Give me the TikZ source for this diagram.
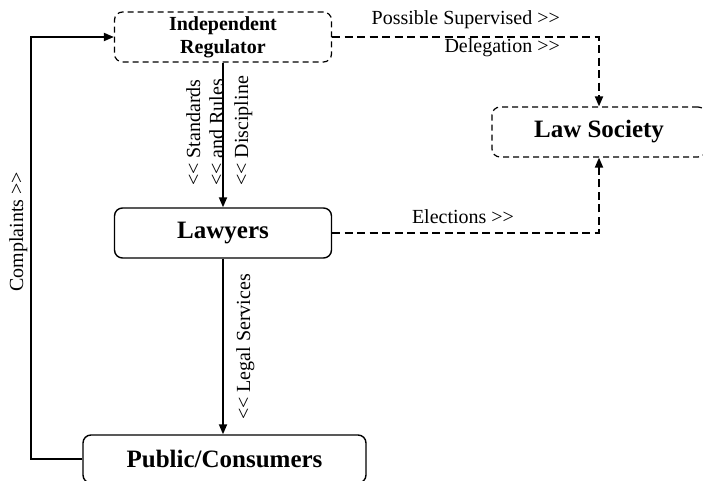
\documentclass[tikz,border=0pt]{standalone}
\usepackage{fontspec}
\setmainfont{Liberation Serif}[Ligatures=TeXOff]
\usetikzlibrary{arrows.meta}
\begin{document}
\begin{tikzpicture}[x=1pt,y=-1pt,
  box/.style={draw, line width=1.4pt, rounded corners=8pt, inner sep=0pt,
    align=center, font=\fontsize{25}{28}\selectfont\bfseries},
  dbox/.style={box, dash pattern=on 6pt off 4pt, line width=1.2pt},
  link/.style={line width=1.8pt, -{Triangle[length=10pt,width=8pt]}},
  dlink/.style={link, dash pattern=on 8pt off 4.5pt},
  lbl/.style={inner sep=0pt, font=\fontsize{20}{23}\selectfont},
  vlbl/.style={lbl, rotate=90, anchor=base west}]
\useasboundingbox (0,0) rectangle (703,481);

% boxes
\node[dbox, minimum width=217pt, minimum height=50pt,
  font=\fontsize{20}{23}\selectfont\bfseries] (reg) at (223,37)
  {Independent\\Regulator};
\node[dbox, minimum width=214pt, minimum height=50pt] (law) at (599,132) {Law Society};
\node[box, minimum width=217pt, minimum height=50pt] (lawyers) at (223,233) {Lawyers};
\node[box, minimum width=283pt, minimum height=48pt] (public) at (224.5,459) {Public/Consumers};

% connectors
\draw[link] (reg.south) -- (lawyers.north);
\draw[link] (lawyers.south) -- (lawyers.south |- public.north);
\draw[dlink] (reg.east) -| (law.north);
\draw[dlink] (lawyers.east) -| (law.south);
\draw[link] (public.west) -- ++(-51,0) |- (reg.west);

% labels
\node[lbl, anchor=base east] (possible) at (560,25) {Possible Supervised >>};
\node[lbl, anchor=base east] (deleg) at (560,53) {Delegation >>};
\node[lbl, anchor=base] (elect) at (463,223) {Elections >>};
\node[vlbl] (stand) at (200,186) {<< Standards};
\node[vlbl] (rules) at (223,186) {<< and Rules};
\node[vlbl] (disc) at (248,186) {<< Discipline};
\node[vlbl] (legal) at (250,420) {<< Legal Services};
\node[vlbl] (compl) at (23,292) {Complaints >>};
\end{tikzpicture}
\end{document}
